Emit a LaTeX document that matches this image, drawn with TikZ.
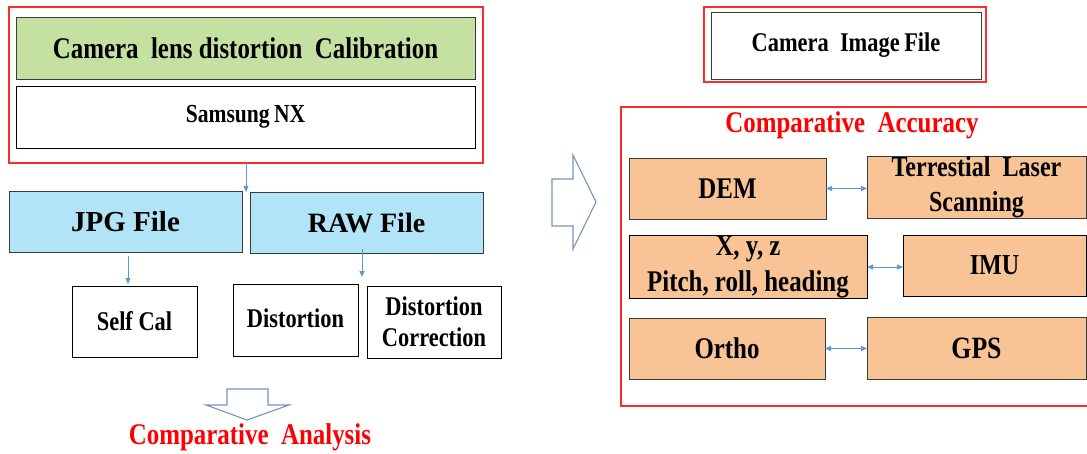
\documentclass[tikz,border=0pt]{standalone}
\usepackage{fontspec}
\setmainfont{Liberation Serif}[FakeStretch=0.83]
\newfontfamily\plainserif{Liberation Serif}
\usetikzlibrary{arrows.meta}
\definecolor{boxgreen}{HTML}{C4E1A2}
\definecolor{boxblue}{HTML}{B2E4F7}
\definecolor{boxorange}{HTML}{F8C496}
\definecolor{arrblue}{HTML}{5B9BD5}
\definecolor{outlinered}{HTML}{FF2A2A}
\definecolor{blockblue}{HTML}{7896BA}
\definecolor{edgegray}{HTML}{3A3A3A}
\newcommand{\fs}[2]{\fontsize{#1}{#2}\selectfont}
\tikzset{
  fbox/.style={draw=#1, line width=0.9pt, inner sep=0pt, outer sep=0pt, rectangle, align=center},
  redframe/.style={draw=outlinered, line width=1.1pt, inner sep=0pt, outer sep=0pt, rectangle},
  arr/.style={draw=arrblue, line width=1pt, -{Triangle[length=6pt,width=5pt]}},
  darr/.style={draw=arrblue, line width=1pt, {Triangle[length=6pt,width=5pt]}-{Triangle[length=6pt,width=5pt]}},
  blockarrow/.style={draw=blockblue, line width=1.1pt, fill=white, line join=miter},
  redtitle/.style={text=red, font=\bfseries\fs{30}{34}, inner sep=0pt}
}
\begin{document}
\begin{tikzpicture}[x=1pt,y=-1pt]
\fill[white] (0,0) rectangle (1087,453);
\useasboundingbox (0,0) rectangle (1087,453);
% ---------- left part ----------
\node[redframe, minimum width=474pt, minimum height=156pt] (leftframe) at (246,85) {};
\node[fbox=edgegray, fill=boxgreen, minimum width=459pt, minimum height=62pt, font=\bfseries\fs{30}{34}] (calib) at (245.5,48) {Camera\ \ lens distortion\ \ Calibration};
\node[fbox=black, fill=white, minimum width=459pt, minimum height=62pt, font=\bfseries\fs{26}{30}] (samsung) at (245.5,117) {Samsung\,NX};
\node[fbox=edgegray, fill=boxblue, minimum width=233pt, minimum height=61pt, font=\plainserif\bfseries\fs{29}{33}] (jpg) at (125.5,221.5) {JPG File};
\node[fbox=edgegray, fill=boxblue, minimum width=233pt, minimum height=61pt, font=\plainserif\bfseries\fs{28}{32}] (raw) at (366.5,222.5) {RAW File};
\node[fbox=black, fill=white, minimum width=125pt, minimum height=71pt, font=\bfseries\fs{27}{31}] (selfcal) at (134.5,321.5) {Self Cal};
\node[fbox=black, fill=white, minimum width=125pt, minimum height=72pt, font=\bfseries\fs{27}{31}] (dist) at (295.5,320) {\raisebox{3pt}{Distortion}};
\node[fbox=black, fill=white, minimum width=134pt, minimum height=72pt, font=\bfseries\fs{27}{31}] (distcorr) at (434,322) {Distortion\\Correction};
\coordinate (gap) at (246,192);
\draw[arr] (leftframe.south -| gap) -- (gap);
\draw[arr] ([xshift=2.5pt,yshift=-4pt]jpg.south) -- ([xshift=-6.5pt,yshift=2pt]selfcal.north);
\draw[arr] ([xshift=-4.5pt,yshift=4pt]raw.south) -- ([xshift=66.5pt,yshift=7pt]dist.north);
\draw[blockarrow] (227,389) -- (268,389) -- (268,405) -- (289,405) -- (247,420) -- (206,405) -- (227,405) -- cycle;
\node[redtitle] (analysis) at (250,437) {Comparative\ \ Analysis};
% ---------- right part ----------
\draw[blockarrow] (552,179) -- (573,179) -- (573,155) -- (596,202) -- (573,249) -- (573,226) -- (552,226) -- cycle;
\node[redframe, minimum width=282pt, minimum height=75pt] (camouter) at (845,44.5) {};
\node[fbox=edgegray, fill=white, minimum width=270pt, minimum height=67pt, font=\bfseries\fs{27}{31}] (camfile) at (846,45.5) {Camera\ \ Image\,File};
\node[redframe, minimum width=470pt, minimum height=299pt] (accbox) at (856,256.5) {};
\node[redtitle] (acctitle) at (852,125) {Comparative\ \ Accuracy};
\node[fbox=edgegray, fill=boxorange, minimum width=197pt, minimum height=61pt, font=\bfseries\fs{30}{34}] (dem) at (727.5,188.5) {DEM};
\node[fbox=edgegray, fill=boxorange, minimum width=219pt, minimum height=61pt, font=\bfseries\fs{29}{35}] (tls) at (976.5,187.5) {Terrestial\ \ Laser\\Scanning};
\node[fbox=black, fill=boxorange, minimum width=238pt, minimum height=60pt, font=\bfseries\fs{30}{36}] (xyz) at (748,267) {X, y, z\\Pitch, roll, heading};
\node[fbox=black, fill=boxorange, minimum width=183pt, minimum height=61pt, font=\bfseries\fs{29}{33}] (imu) at (994.5,265.5) {IMU};
\node[fbox=edgegray, fill=boxorange, minimum width=196pt, minimum height=61pt, font=\bfseries\fs{30}{34}] (ortho) at (727,348.5) {Ortho};
\node[fbox=edgegray, fill=boxorange, minimum width=219pt, minimum height=62pt, font=\bfseries\fs{31}{35}] (gps) at (976.5,348) {GPS};
\draw[darr] (dem.east) -- (tls.west |- dem.east);
\draw[darr] (xyz.east) -- (imu.west |- xyz.east);
\draw[darr] (ortho.east) -- (gps.west |- ortho.east);
\end{tikzpicture}
\end{document}
